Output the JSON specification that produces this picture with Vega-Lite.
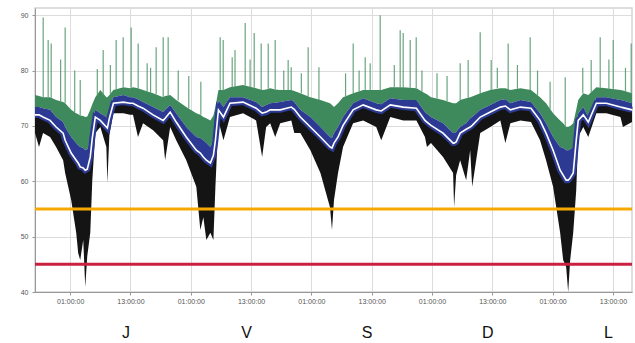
{
  "$schema": "https://vega.github.io/schema/vega-lite/v6.json",
  "width": 597,
  "height": 284,
  "autosize": "none",
  "padding": {"left": 35, "top": 8, "right": 3, "bottom": 51},
  "background": "white",
  "config": {
    "view": {"stroke": "#d4d4d4", "strokeWidth": 1.5},
    "font": "Liberation Sans",
    "axis": {"labelFont": "Liberation Sans", "labelColor": "#555", "labelFontSize": 7, "gridColor": "#dcdcdc", "domainColor": "#999", "tickColor": "#999", "tickSize": 3, "title": null}
  },
  "datasets": {
    "series": [
      {"h": -6, "g": 75.6, "b": 73.4, "w": 72.0, "k": 68.7},
      {"h": -5.2, "g": 75.4, "b": 73.4, "w": 72.0, "k": 66.2},
      {"h": -4.4, "g": 75.2, "b": 73.2, "w": 71.6, "k": 68.7},
      {"h": -3.0, "g": 75.2, "b": 72.9, "w": 71.0, "k": 68.0},
      {"h": -1.8, "g": 74.7, "b": 71.6, "w": 69.8, "k": 66.2},
      {"h": -0.4, "g": 74.3, "b": 70.7, "w": 68.7, "k": 63.8},
      {"h": 0.0, "g": 74.1, "b": 69.8, "w": 67.4, "k": 61.5},
      {"h": 1.2, "g": 72.9, "b": 68.0, "w": 65.1, "k": 56.6},
      {"h": 2.2, "g": 72.3, "b": 66.9, "w": 63.8, "k": 50.7},
      {"h": 2.6, "g": 72.1, "b": 66.5, "w": 63.3, "k": 47.0},
      {"h": 3.0, "g": 71.9, "b": 66.2, "w": 62.6, "k": 45.8},
      {"h": 3.6, "g": 71.8, "b": 66.0, "w": 62.4, "k": 49.4},
      {"h": 4.0, "g": 71.6, "b": 65.6, "w": 62.0, "k": 40.9},
      {"h": 4.4, "g": 71.7, "b": 65.8, "w": 62.2, "k": 46.5},
      {"h": 5.0, "g": 72.9, "b": 67.4, "w": 64.4, "k": 50.7},
      {"h": 5.4, "g": 73.9, "b": 70.1, "w": 67.8, "k": 60.2},
      {"h": 6.0, "g": 75.2, "b": 72.9, "w": 71.6, "k": 68.7},
      {"h": 7.0, "g": 76.5, "b": 72.3, "w": 71.0, "k": 69.8},
      {"h": 8.2, "g": 75.2, "b": 71.6, "w": 69.8, "k": 66.2},
      {"h": 8.4, "g": 75.2, "b": 71.4, "w": 69.6, "k": 59.7},
      {"h": 8.8, "g": 75.6, "b": 73.2, "w": 71.4, "k": 68.3},
      {"h": 9.6, "g": 76.5, "b": 75.2, "w": 74.1, "k": 72.3},
      {"h": 11.6, "g": 77.0, "b": 75.6, "w": 74.3, "k": 72.3},
      {"h": 12.9, "g": 76.8, "b": 75.2, "w": 74.1, "k": 72.0},
      {"h": 13.5, "g": 77.0, "b": 75.2, "w": 74.1, "k": 72.0},
      {"h": 14.5, "g": 76.8, "b": 74.8, "w": 73.6, "k": 68.0},
      {"h": 15.5, "g": 76.5, "b": 74.3, "w": 73.2, "k": 70.5},
      {"h": 17.5, "g": 75.9, "b": 73.4, "w": 72.0, "k": 69.2},
      {"h": 19.5, "g": 75.2, "b": 72.5, "w": 71.0, "k": 67.4},
      {"h": 19.9, "g": 75.4, "b": 72.9, "w": 71.4, "k": 63.8},
      {"h": 20.9, "g": 75.6, "b": 73.8, "w": 72.5, "k": 69.8},
      {"h": 22.1, "g": 74.7, "b": 72.3, "w": 70.7, "k": 67.4},
      {"h": 24.1, "g": 73.4, "b": 69.8, "w": 68.0, "k": 63.8},
      {"h": 26.1, "g": 72.3, "b": 68.0, "w": 65.6, "k": 59.0},
      {"h": 26.9, "g": 72.0, "b": 67.8, "w": 65.1, "k": 51.2},
      {"h": 27.5, "g": 71.6, "b": 67.4, "w": 64.4, "k": 53.5},
      {"h": 28.1, "g": 71.4, "b": 66.9, "w": 63.8, "k": 49.4},
      {"h": 28.9, "g": 71.0, "b": 66.2, "w": 63.3, "k": 50.7},
      {"h": 29.5, "g": 71.9, "b": 67.4, "w": 64.7, "k": 49.4},
      {"h": 29.9, "g": 73.4, "b": 69.2, "w": 67.4, "k": 59.0},
      {"h": 30.5, "g": 76.5, "b": 74.7, "w": 72.9, "k": 71.0},
      {"h": 31.5, "g": 76.5, "b": 73.4, "w": 71.6, "k": 67.4},
      {"h": 32.8, "g": 77.0, "b": 75.2, "w": 74.1, "k": 71.6},
      {"h": 35.4, "g": 77.4, "b": 75.2, "w": 74.3, "k": 72.3},
      {"h": 38.0, "g": 76.8, "b": 74.3, "w": 73.2, "k": 71.0},
      {"h": 39.2, "g": 76.5, "b": 73.4, "w": 72.3, "k": 64.4},
      {"h": 40.0, "g": 76.6, "b": 73.8, "w": 72.5, "k": 69.8},
      {"h": 40.8, "g": 76.8, "b": 74.1, "w": 72.9, "k": 70.5},
      {"h": 41.8, "g": 76.6, "b": 74.2, "w": 72.9, "k": 68.0},
      {"h": 42.8, "g": 76.5, "b": 74.3, "w": 72.9, "k": 70.5},
      {"h": 45.0, "g": 76.5, "b": 74.7, "w": 73.4, "k": 71.0},
      {"h": 45.6, "g": 76.3, "b": 74.3, "w": 73.0, "k": 68.7},
      {"h": 46.8, "g": 75.9, "b": 72.9, "w": 71.6, "k": 68.7},
      {"h": 48.8, "g": 75.2, "b": 71.6, "w": 69.8, "k": 65.6},
      {"h": 50.8, "g": 74.7, "b": 69.8, "w": 68.0, "k": 61.5},
      {"h": 52.7, "g": 74.1, "b": 68.0, "w": 66.2, "k": 55.3},
      {"h": 53.1, "g": 73.8, "b": 67.8, "w": 66.0, "k": 51.2},
      {"h": 53.5, "g": 73.4, "b": 68.7, "w": 66.9, "k": 56.6},
      {"h": 54.3, "g": 74.1, "b": 69.8, "w": 68.0, "k": 61.5},
      {"h": 55.3, "g": 75.2, "b": 71.6, "w": 70.1, "k": 66.2},
      {"h": 57.3, "g": 75.9, "b": 74.1, "w": 72.9, "k": 70.5},
      {"h": 59.3, "g": 76.5, "b": 75.0, "w": 73.8, "k": 71.0},
      {"h": 61.9, "g": 76.5, "b": 74.1, "w": 72.9, "k": 69.8},
      {"h": 62.9, "g": 76.5, "b": 73.9, "w": 72.7, "k": 67.4},
      {"h": 64.7, "g": 77.0, "b": 75.0, "w": 73.8, "k": 71.6},
      {"h": 67.3, "g": 77.0, "b": 74.7, "w": 73.4, "k": 71.0},
      {"h": 69.9, "g": 76.8, "b": 74.7, "w": 73.2, "k": 71.0},
      {"h": 71.6, "g": 75.9, "b": 72.5, "w": 71.0, "k": 68.0},
      {"h": 72.0, "g": 75.7, "b": 72.2, "w": 70.7, "k": 66.2},
      {"h": 72.8, "g": 75.2, "b": 71.6, "w": 70.1, "k": 66.9},
      {"h": 75.2, "g": 74.7, "b": 70.5, "w": 68.7, "k": 64.4},
      {"h": 77.2, "g": 74.1, "b": 68.7, "w": 66.9, "k": 61.5},
      {"h": 77.4, "g": 74.1, "b": 68.7, "w": 66.9, "k": 55.3},
      {"h": 77.8, "g": 74.1, "b": 68.9, "w": 67.1, "k": 61.1},
      {"h": 78.6, "g": 74.7, "b": 69.8, "w": 68.7, "k": 63.8},
      {"h": 79.8, "g": 75.0, "b": 70.5, "w": 69.4, "k": 60.2},
      {"h": 80.6, "g": 75.2, "b": 71.4, "w": 69.8, "k": 65.6},
      {"h": 81.0, "g": 75.3, "b": 71.6, "w": 70.1, "k": 59.0},
      {"h": 82.6, "g": 75.9, "b": 72.9, "w": 71.6, "k": 68.7},
      {"h": 84.6, "g": 76.5, "b": 73.8, "w": 72.5, "k": 69.8},
      {"h": 86.6, "g": 76.8, "b": 74.7, "w": 73.4, "k": 71.0},
      {"h": 87.6, "g": 76.8, "b": 74.8, "w": 73.6, "k": 66.9},
      {"h": 88.6, "g": 76.5, "b": 74.1, "w": 72.9, "k": 70.5},
      {"h": 90.6, "g": 76.8, "b": 74.7, "w": 73.4, "k": 71.0},
      {"h": 92.7, "g": 76.5, "b": 74.3, "w": 73.2, "k": 70.7},
      {"h": 94.5, "g": 75.2, "b": 72.3, "w": 71.0, "k": 67.4},
      {"h": 95.7, "g": 74.1, "b": 70.5, "w": 68.7, "k": 63.8},
      {"h": 97.1, "g": 72.3, "b": 68.0, "w": 65.6, "k": 59.0},
      {"h": 98.5, "g": 71.0, "b": 66.2, "w": 62.0, "k": 50.7},
      {"h": 99.1, "g": 70.5, "b": 66.0, "w": 61.1, "k": 45.8},
      {"h": 99.7, "g": 69.8, "b": 65.6, "w": 60.2, "k": 44.5},
      {"h": 100.1, "g": 69.8, "b": 65.6, "w": 60.2, "k": 40.0},
      {"h": 100.5, "g": 70.0, "b": 65.8, "w": 60.6, "k": 45.8},
      {"h": 101.1, "g": 70.5, "b": 66.2, "w": 61.5, "k": 50.7},
      {"h": 101.7, "g": 72.9, "b": 69.6, "w": 67.4, "k": 58.4},
      {"h": 102.1, "g": 74.7, "b": 72.3, "w": 71.0, "k": 68.0},
      {"h": 103.1, "g": 75.9, "b": 73.4, "w": 72.0, "k": 69.8},
      {"h": 104.1, "g": 75.6, "b": 71.6, "w": 70.7, "k": 68.0},
      {"h": 105.7, "g": 77.0, "b": 75.2, "w": 74.1, "k": 72.3},
      {"h": 107.7, "g": 76.8, "b": 75.2, "w": 74.1, "k": 72.3},
      {"h": 110.5, "g": 76.5, "b": 74.7, "w": 73.4, "k": 71.6},
      {"h": 111.0, "g": 76.4, "b": 74.6, "w": 73.3, "k": 69.8},
      {"h": 112.8, "g": 75.9, "b": 74.1, "w": 72.9, "k": 70.7}
    ],
    "spikes": [
      {"h": -4.37, "top": 89.6, "base": 75.2},
      {"h": -3.38, "top": 85.5, "base": 75.2},
      {"h": -2.78, "top": 84.9, "base": 75.1},
      {"h": -0.9, "top": 82.0, "base": 74.4},
      {"h": 0.0, "top": 87.8, "base": 74.1},
      {"h": 1.9, "top": 80.0, "base": 72.5},
      {"h": 3.0, "top": 78.3, "base": 71.9},
      {"h": 6.4, "top": 80.3, "base": 75.5},
      {"h": 7.57, "top": 83.7, "base": 75.5},
      {"h": 9.0, "top": 81.0, "base": 75.8},
      {"h": 10.15, "top": 85.5, "base": 76.6},
      {"h": 11.55, "top": 86.0, "base": 77.0},
      {"h": 13.14, "top": 87.8, "base": 76.9},
      {"h": 14.53, "top": 84.9, "base": 76.8},
      {"h": 16.32, "top": 81.3, "base": 76.2},
      {"h": 17.0, "top": 80.5, "base": 76.0},
      {"h": 18.11, "top": 84.2, "base": 75.7},
      {"h": 19.51, "top": 86.0, "base": 75.2},
      {"h": 20.5, "top": 86.0, "base": 75.5},
      {"h": 22.5, "top": 80.0, "base": 74.6},
      {"h": 24.6, "top": 79.0, "base": 73.2},
      {"h": 27.0, "top": 78.0, "base": 72.0},
      {"h": 30.85, "top": 86.0, "base": 76.5},
      {"h": 31.45, "top": 85.5, "base": 76.5},
      {"h": 33.24, "top": 82.4, "base": 77.0},
      {"h": 33.8, "top": 83.7, "base": 77.0},
      {"h": 35.83, "top": 88.6, "base": 77.3},
      {"h": 36.8, "top": 82.0, "base": 77.0},
      {"h": 37.62, "top": 86.8, "base": 76.9},
      {"h": 39.01, "top": 84.9, "base": 76.5},
      {"h": 40.41, "top": 84.9, "base": 76.7},
      {"h": 41.8, "top": 85.5, "base": 76.6},
      {"h": 43.5, "top": 80.0, "base": 76.5},
      {"h": 44.38, "top": 81.9, "base": 76.5},
      {"h": 44.98, "top": 80.6, "base": 76.5},
      {"h": 47.0, "top": 79.5, "base": 75.9},
      {"h": 48.36, "top": 84.2, "base": 75.3},
      {"h": 50.5, "top": 80.6, "base": 74.7},
      {"h": 55.8, "top": 79.5, "base": 75.4},
      {"h": 57.32, "top": 84.9, "base": 75.9},
      {"h": 58.5, "top": 80.0, "base": 76.2},
      {"h": 59.71, "top": 82.4, "base": 76.5},
      {"h": 60.7, "top": 81.3, "base": 76.5},
      {"h": 62.69, "top": 90.0, "base": 76.5},
      {"h": 65.5, "top": 81.0, "base": 77.0},
      {"h": 66.67, "top": 87.3, "base": 77.0},
      {"h": 67.27, "top": 86.8, "base": 77.0},
      {"h": 68.66, "top": 85.5, "base": 76.9},
      {"h": 69.86, "top": 86.0, "base": 76.8},
      {"h": 71.0, "top": 80.0, "base": 76.2},
      {"h": 74.0, "top": 79.5, "base": 74.9},
      {"h": 76.0, "top": 79.0, "base": 74.5},
      {"h": 78.61, "top": 81.3, "base": 74.7},
      {"h": 80.2, "top": 81.9, "base": 75.1},
      {"h": 82.59, "top": 86.9, "base": 75.9},
      {"h": 84.78, "top": 81.9, "base": 76.5},
      {"h": 86.0, "top": 80.5, "base": 76.8},
      {"h": 88.16, "top": 84.9, "base": 76.6},
      {"h": 90.0, "top": 81.0, "base": 76.7},
      {"h": 92.54, "top": 86.0, "base": 76.5},
      {"h": 94.0, "top": 80.0, "base": 75.5},
      {"h": 96.5, "top": 78.0, "base": 73.0},
      {"h": 99.51, "top": 78.8, "base": 70.0},
      {"h": 103.0, "top": 80.5, "base": 75.9},
      {"h": 104.68, "top": 81.9, "base": 76.0},
      {"h": 106.47, "top": 86.0, "base": 76.9},
      {"h": 108.2, "top": 82.0, "base": 76.7},
      {"h": 109.06, "top": 85.5, "base": 76.7},
      {"h": 111.5, "top": 80.5, "base": 76.2},
      {"h": 112.64, "top": 84.9, "base": 75.9}
    ],
    "limits": [
      {"level": 55, "kind": "orange"},
      {"level": 45, "kind": "red"}
    ],
    "days": [
      {"h": 12, "day": "J"},
      {"h": 36, "day": "V"},
      {"h": 60, "day": "S"},
      {"h": 84, "day": "D"},
      {"h": 108, "day": "L"}
    ]
  },
  "layer": [
    {
      "data": {"name": "series"},
      "mark": {"type": "area", "color": "#3f8a5c"},
      "encoding": {
        "x": {"field": "h", "type": "quantitative", "scale": {"domain": [-6, 112.8], "nice": false, "zero": false},
          "axis": {"values": [1, 13, 25, 37, 49, 61, 73, 85, 97, 109], "labelExpr": "datum.value % 24 == 1 ? '01:00:00' : '13:00:00'", "grid": true, "labelPadding": 2}},
        "y": {"field": "b", "type": "quantitative", "scale": {"domain": [40, 91.3], "nice": false, "zero": false},
          "axis": {"values": [40, 50, 60, 70, 80, 90], "grid": true, "labelPadding": 4}},
        "y2": {"field": "g"}
      }
    },
    {
      "data": {"name": "spikes"},
      "mark": {"type": "rule", "color": "#4e9568", "strokeWidth": 1.2, "opacity": 0.85},
      "encoding": {
        "x": {"field": "h", "type": "quantitative", "axis": null},
        "y": {"field": "base", "type": "quantitative"},
        "y2": {"field": "top"}
      }
    },
    {
      "data": {"name": "series"},
      "mark": {"type": "area", "color": "#2d3a94"},
      "encoding": {
        "x": {"field": "h", "type": "quantitative", "axis": null},
        "y": {"field": "w", "type": "quantitative"},
        "y2": {"field": "b"}
      }
    },
    {
      "data": {"name": "series"},
      "mark": {"type": "area", "color": "#141414"},
      "encoding": {
        "x": {"field": "h", "type": "quantitative", "axis": null},
        "y": {"field": "k", "type": "quantitative"},
        "y2": {"field": "w"}
      }
    },
    {
      "data": {"name": "series"},
      "mark": {"type": "line", "color": "#2d3a94", "strokeWidth": 6},
      "encoding": {
        "x": {"field": "h", "type": "quantitative", "axis": null},
        "y": {"field": "w", "type": "quantitative"}
      }
    },
    {
      "data": {"name": "series"},
      "mark": {"type": "line", "color": "#ffffff", "strokeWidth": 1.6},
      "encoding": {
        "x": {"field": "h", "type": "quantitative", "axis": null},
        "y": {"field": "w", "type": "quantitative"}
      }
    },
    {
      "data": {"name": "limits"},
      "mark": {"type": "rule", "strokeWidth": 3},
      "encoding": {
        "y": {"field": "level", "type": "quantitative"},
        "color": {"field": "kind", "type": "nominal", "scale": {"domain": ["orange", "red"], "range": ["#f5a900", "#c9213f"]}, "legend": null}
      }
    },
    {
      "data": {"name": "days"},
      "mark": {"type": "text", "opacity": 0},
      "encoding": {
        "x": {"field": "h", "type": "quantitative",
          "axis": {"orient": "bottom", "values": [12, 36, 60, 84, 108], "labelExpr": "['J','V','S','D','L'][floor(datum.value / 24)]", "labelFontSize": 16, "labelColor": "#111", "domain": false, "ticks": false, "grid": false, "offset": 32, "labelPadding": 0}},
        "text": {"field": "day"}
      }
    }
  ],
  "resolve": {"axis": {"x": "independent"}}
}
